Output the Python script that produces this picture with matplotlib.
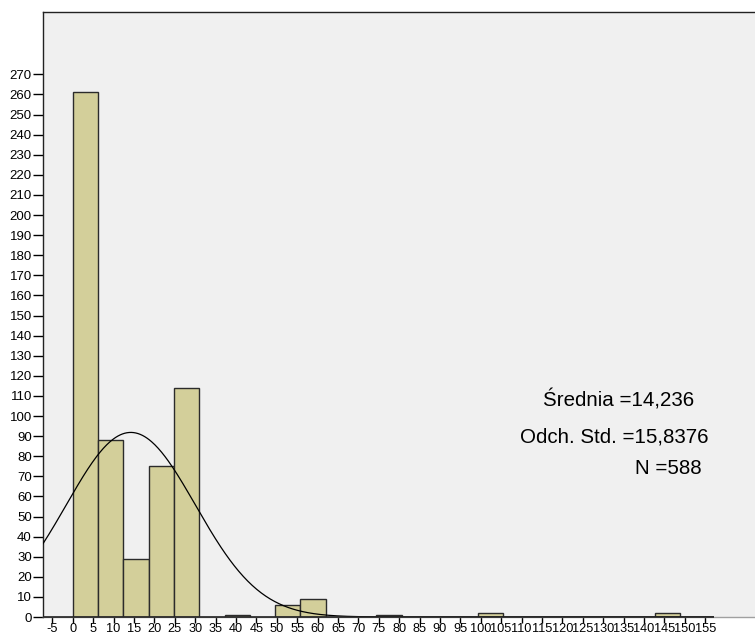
import numpy as np
import matplotlib
matplotlib.use("Agg")
import matplotlib.pyplot as plt

plt.rcParams['font.family'] = ['Liberation Sans', 'DejaVu Sans']

# histogram bins (left edge, count), bin width 6.2
bin_left = [0, 6.2, 12.4, 18.6, 24.8, 37.2, 49.6, 55.8, 74.4, 99.2, 142.6]
counts = [261, 88, 29, 75, 114, 1, 6, 9, 1, 2, 2]
bin_width = 6.2

mean = 14.236
std = 15.8376
n = 588

x_ticks = list(range(-5, 160, 5))
y_ticks = list(range(0, 280, 10))

W, H = 755, 634
fig = plt.figure(figsize=(W / 100, H / 100), dpi=100)
fig.patch.set_facecolor('white')
ax = fig.add_axes([43 / W, (H - 617) / H, 1 - 43 / W, (617 - 12) / H])
ax.set_facecolor('#f0f0f0')

ax.bar(bin_left, counts, width=bin_width, align='edge',
       color='#d3cf9a', edgecolor='#2b2b2b', linewidth=1.0, zorder=2)

# fitted normal curve
xs = np.linspace(-7.3, 157, 600)
ys = n * bin_width * np.exp(-0.5 * ((xs - mean) / std) ** 2) / (std * np.sqrt(2 * np.pi))
ax.plot(xs, ys, color='black', linewidth=0.9, zorder=3)

ax.set_xlim(-7.28, 167.2)
ax.set_ylim(0, 301)

ax.set_xticks(x_ticks)
ax.set_xticklabels([str(t) for t in x_ticks])
ax.set_yticks(y_ticks)
ax.set_yticklabels([str(t) for t in y_ticks])
ax.tick_params(axis='y', direction='out', length=7, width=1, pad=1,
               labelsize=9.5, colors='black')
ax.tick_params(axis='x', direction='out', length=4, width=1, pad=0.5,
               labelsize=9.2, colors='black')

for side in ['top', 'left']:
    ax.spines[side].set_color('#222222')
    ax.spines[side].set_linewidth(1.0)
ax.spines['right'].set_visible(False)
ax.spines['bottom'].set_color('#a0a0a0')
ax.spines['bottom'].set_linewidth(1.0)
# dark axis line under the bars
ax.hlines(0, -7.28, 157.2, colors='#222222', linewidth=1.2, zorder=4, clip_on=False)

def px_text(x, y, s):
    fig.text(x / W, 1 - y / H, s, fontsize=14.8, ha='left', va='center')

px_text(543, 400, 'Średnia =14,236')
px_text(520, 437, 'Odch. Std. =15,8376')
px_text(635, 469, 'N =588')

fig.savefig('out.png', dpi=100, facecolor='white')
